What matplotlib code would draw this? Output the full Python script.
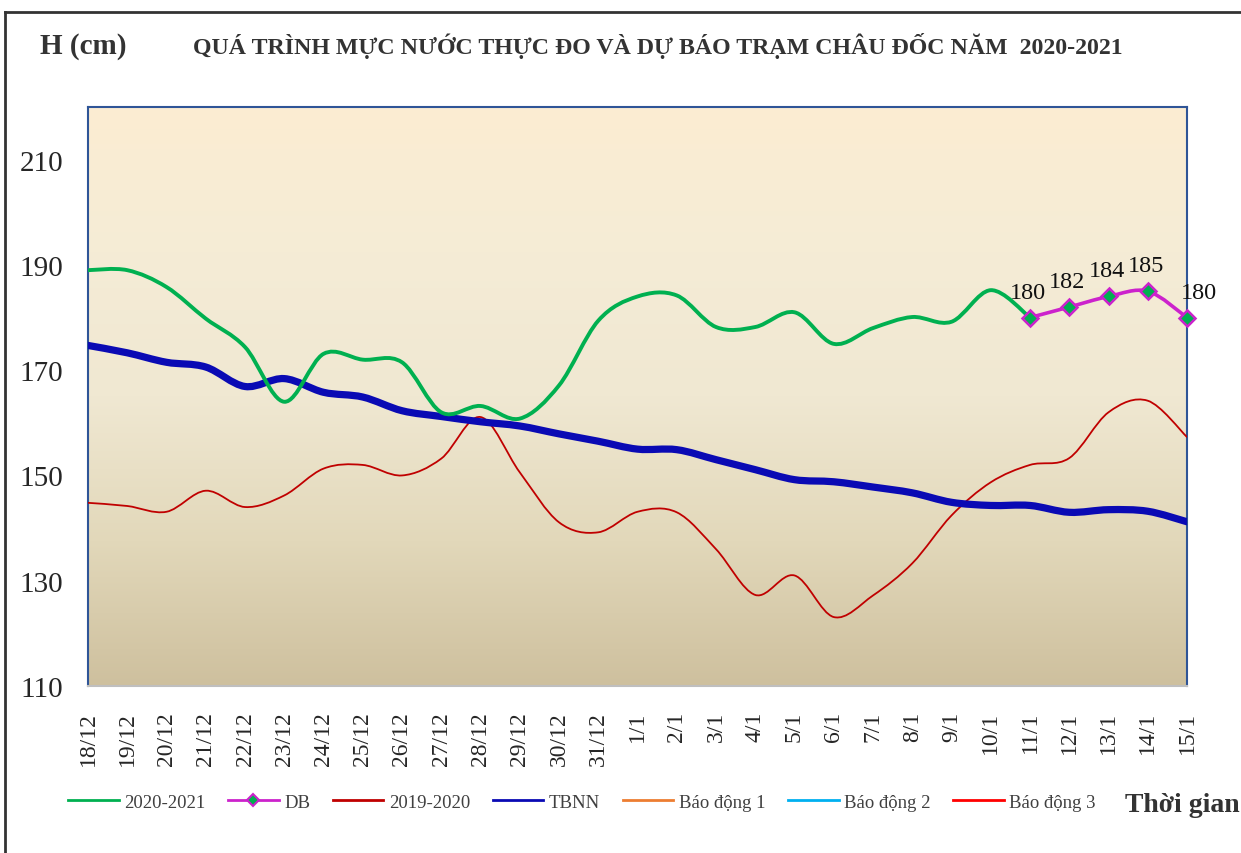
import numpy as np
import matplotlib
matplotlib.use("Agg")
import matplotlib.pyplot as plt
from matplotlib.path import Path
from matplotlib.patches import PathPatch
from matplotlib.lines import Line2D

plt.rcParams['font.family'] = ['Liberation Serif', 'DejaVu Serif']

dates = ['18/12', '19/12', '20/12', '21/12', '22/12', '23/12', '24/12', '25/12',
         '26/12', '27/12', '28/12', '29/12', '30/12', '31/12', '1/1', '2/1', '3/1',
         '4/1', '5/1', '6/1', '7/1', '8/1', '9/1', '10/1', '11/1', '12/1', '13/1',
         '14/1', '15/1']

# measured 2020-2021 (up to 11/1)
h_2021 = [189, 189, 185.8, 179.8, 174.4, 164, 173.1, 172, 171.5, 162, 163.2, 160.8,
          167.1, 179.4, 184, 184.2, 178.2, 178.2, 181, 175, 178, 180.1, 179.2, 185.2, 180]
# forecast 11/1 - 15/1
db = [180, 182, 184, 185, 180]
h_1920 = [144.8, 144.2, 143.1, 147.1, 144, 146.2, 151.3, 152, 150, 153.2, 161.1, 150.6,
          141.1, 139.2, 143.1, 143, 136, 127.3, 131, 123.1, 127.2, 133.3, 142.4, 148.7,
          152, 153.3, 162, 164.2, 157.3]
tbnn = [174.7, 173.3, 171.5, 170.6, 166.9, 168.4, 165.8, 164.9, 162.3, 161.2, 160.2, 159.4,
        157.9, 156.5, 155, 154.9, 153, 151.1, 149.2, 148.8, 147.8, 146.7, 144.9, 144.3,
        144.3, 143, 143.5, 143.2, 141.2]
# alarm levels (cm), above the visible range
bd1, bd2, bd3 = 350, 400, 450

c_2021 = '#00B050'
c_db = '#CC22CC'
c_1920 = '#C00000'
c_tbnn = '#0A0AB4'
c_bd1 = '#ED7D31'
c_bd2 = '#00B0F0'
c_bd3 = '#FF0000'


def smooth_path(xs, ys):
    # excel style smoothed line as cubic bezier segments
    pts = np.column_stack([xs, ys]).astype(float)
    n = len(pts)
    verts = [pts[0]]
    codes = [Path.MOVETO]
    for i in range(n - 1):
        p0 = pts[i - 1] if i > 0 else pts[i]
        p1 = pts[i]
        p2 = pts[i + 1]
        p3 = pts[i + 2] if i + 2 < n else pts[i + 1]
        verts += [p1 + (p2 - p0) / 6, p2 - (p3 - p1) / 6, p2]
        codes += [Path.CURVE4] * 3
    return Path(verts, codes)


def draw_smooth(ax, xs, ys, color, lw, z):
    ax.add_patch(PathPatch(smooth_path(xs, ys), facecolor='none', edgecolor=color,
                           lw=lw, capstyle='round', joinstyle='round', zorder=z))


fig = plt.figure(figsize=(12.41, 8.54), dpi=100)
ax = fig.add_axes([88 / 1241, 1 - 687 / 854, 1099 / 1241, 579 / 854])

n = len(dates)
x = np.arange(n)
ax.set_xlim(0, n - 1)
ax.set_ylim(110, 220)

# gradient background, top to bottom
grad = np.array([[252, 237, 210], [245, 236, 214], [240, 232, 210], [226, 216, 186],
                 [206, 192, 158]]) / 255.0
t = np.linspace(0, 1, 300)
stops = np.linspace(0, 1, len(grad))
img = np.stack([np.interp(t, stops, grad[:, k]) for k in range(3)], axis=-1)[:, None, :]
ax.imshow(img, extent=[0, n - 1, 110, 220], origin='upper', aspect='auto', zorder=0,
          interpolation='bilinear')

draw_smooth(ax, x, h_1920, c_1920, 1.3, 3)
draw_smooth(ax, x, tbnn, c_tbnn, 5.2, 4)
draw_smooth(ax, x[:len(h_2021)], h_2021, c_2021, 2.8, 5)
x_db = x[n - len(db):]
draw_smooth(ax, x_db, db, c_db, 2.6, 6)
ax.plot(x_db, db, linestyle='none', marker='D', markersize=8, markerfacecolor=c_2021,
        markeredgecolor=c_db, markeredgewidth=1.8, zorder=7, clip_on=False)
for k, (xi, v) in enumerate(zip(x_db, db)):
    dx = 12 if k == len(db) - 1 else -2
    ax.annotate(f'{v}', (xi, v), textcoords='offset pixels', xytext=(dx, 15),
                ha='center', va='bottom', fontsize=17.5, color='#111111',
                annotation_clip=False, zorder=8)

# alarm lines (outside the shown range)
for lvl, c in [(bd1, c_bd1), (bd2, c_bd2), (bd3, c_bd3)]:
    ax.plot(x, [lvl] * n, color=c, lw=1.5)

ax.set_yticks(range(110, 211, 20))
ax.set_xticks(x)
ax.set_xticklabels(dates, rotation=90, fontsize=17, color='#262626')
ax.tick_params(axis='y', length=0, pad=18, labelsize=21, labelcolor='#262626')
ax.tick_params(axis='x', length=0, pad=18)

for s in ['left', 'top', 'right']:
    ax.spines[s].set_color('#2F5597')
    ax.spines[s].set_linewidth(1.5)
ax.spines['bottom'].set_color('#BFBFBF')
ax.spines['bottom'].set_linewidth(1.5)

fig.text(40 / 1241, 1 - 46 / 854, 'H (cm)', fontsize=21, fontweight='bold',
         color='#333333', va='center', ha='left')
fig.text(193 / 1241, 1 - 46 / 854,
         'QUÁ TRÌNH MỰC NƯỚC THỰC ĐO VÀ DỰ BÁO TRẠM CHÂU ĐỐC NĂM  2020-2021',
         fontsize=17.2, fontweight='bold', color='#333333', va='center', ha='left')
fig.text(1240 / 1241, 1 - 806 / 854, 'Thời gian', fontsize=20, fontweight='bold',
         color='#333333', va='center', ha='right')

# outer frame
fig.add_artist(Line2D([5 / 1241, 1], [1 - 13 / 854, 1 - 13 / 854], color='#333333', lw=2))
fig.add_artist(Line2D([5 / 1241, 5 / 1241], [0, 1 - 13 / 854], color='#333333', lw=2))

handles = [
    Line2D([], [], color=c_2021, lw=2),
    Line2D([], [], color=c_db, lw=2, marker='D', markersize=6,
           markerfacecolor=c_2021, markeredgecolor=c_db, markeredgewidth=1.5),
    Line2D([], [], color=c_1920, lw=2),
    Line2D([], [], color=c_tbnn, lw=2),
    Line2D([], [], color=c_bd1, lw=2),
    Line2D([], [], color=c_bd2, lw=2),
    Line2D([], [], color=c_bd3, lw=2),
]
labels = ['2020-2021', 'DB', '2019-2020', 'TBNN', 'Báo động 1', 'Báo động 2', 'Báo động 3']
leg = fig.legend(handles, labels, loc='center left', bbox_to_anchor=(51 / 1241, 1 - 803 / 854),
                 ncol=7, frameon=False, fontsize=13.5, handlelength=2.7,
                 handletextpad=0.3, columnspacing=1.2)
for txt in leg.get_texts():
    txt.set_color('#404040')

fig.savefig('out.png', dpi=100)
